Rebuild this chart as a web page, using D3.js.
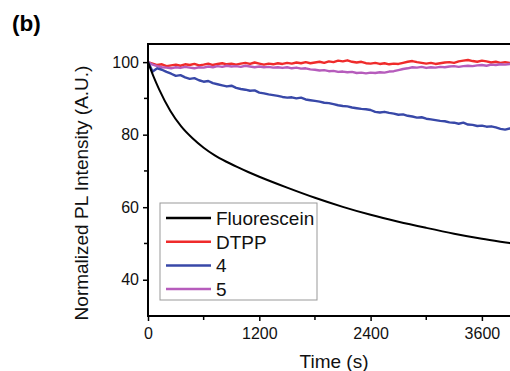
<!DOCTYPE html>
<html>
<head>
<meta charset="utf-8">
<script src="https://cdn.jsdelivr.net/npm/d3@7"></script>
<style>
  body { margin: 0; background: #fff; }
  svg { display: block; font-family: "Liberation Sans", Arial, sans-serif; }
</style>
</head>
<body>
<svg id="chart"></svg>
<script>
// series names + colours (legend order)
let seriesNames = ["Fluorescein", "DTPP", "4", "5"]
let seriesColors = ["#000000", "#ef2b2b", "#3848a8", "#b65cbc"]

// Fluorescein is smooth, read at fewer points
let fluoTimes = [0, 60, 120, 240, 360, 480, 600, 720, 840, 960, 1080, 1200, 1500, 1800, 2100, 2400, 2700, 3000, 3300, 3600, 3900, 4000]
let fluoValues = [100, 96.0, 92.5, 86.6, 82.2, 79.0, 76.4, 74.3, 72.6, 71.1, 69.7, 68.4, 65.4, 62.6, 60.1, 57.9, 56.0, 54.3, 52.7, 51.3, 50.1, 49.7]

// noisy traces read every 50 s
let times = [0, 50, 100, 150, 200, 250, 300, 350, 400, 450, 500, 550, 600, 650, 700, 750, 800, 850, 900, 950,
  1000, 1050, 1100, 1150, 1200, 1250, 1300, 1350, 1400, 1450, 1500, 1550, 1600, 1650, 1700, 1750, 1800, 1850, 1900, 1950,
  2000, 2050, 2100, 2150, 2200, 2250, 2300, 2350, 2400, 2450, 2500, 2550, 2600, 2650, 2700, 2750, 2800, 2850, 2900, 2950,
  3000, 3050, 3100, 3150, 3200, 3250, 3300, 3350, 3400, 3450, 3500, 3550, 3600, 3650, 3700, 3750, 3800, 3850, 3900, 3950, 4000]

let dtppValues = [100.0, 99.6, 99.2, 99.4, 98.9, 99.1, 99.3, 99.0, 99.4, 99.2, 99.5, 99.1, 99.3, 99.6, 99.2, 99.5, 99.7, 99.4, 99.6, 99.3,
  99.6, 99.8, 99.5, 99.9, 99.6, 99.3, 99.6, 99.4, 99.7, 99.5, 99.8, 99.6, 99.9, 99.7, 100.0, 99.7, 99.9, 100.1, 99.8, 100.2,
  100.0, 100.4, 100.2, 100.5, 100.1, 99.9, 100.1, 99.7, 99.6, 99.8, 99.5, 99.7, 99.4, 99.6, 99.5, 99.8, 100.1, 100.3, 100.0, 99.8,
  99.6, 99.8, 99.5, 99.7, 99.9, 100.0, 99.8, 100.2, 100.4, 100.6, 100.3, 100.1, 100.4, 100.2, 99.9, 100.1, 99.8, 100.0, 99.8, 99.9, 100.0]

let c4Values = [100.0, 97.4, 98.3, 97.9, 97.3, 96.8, 96.2, 96.4, 95.8, 95.4, 95.6, 95.0, 94.6, 94.8, 94.2, 93.9, 93.6, 93.3, 93.5, 92.9,
  92.6, 92.4, 92.1, 92.2, 91.6, 91.4, 91.1, 90.9, 90.7, 90.4, 90.2, 90.3, 90.0, 90.2, 89.7, 89.5, 89.3, 89.1, 88.8, 88.7,
  88.4, 88.1, 87.9, 87.8, 87.5, 87.3, 87.1, 87.0, 86.8, 86.3, 86.1, 86.3, 86.0, 85.8, 85.5, 85.6, 85.2, 85.0, 84.7, 84.8,
  84.4, 84.2, 84.0, 83.8, 83.7, 83.4, 83.3, 83.0, 83.3, 82.8, 82.7, 82.4, 82.5, 82.2, 82.3, 82.0, 81.6, 81.4, 81.7, 81.6, 81.5]

let c5Values = [100.0, 99.3, 98.9, 98.6, 98.5, 98.3, 98.6, 98.4, 98.7, 98.5, 98.3, 98.6, 98.5, 98.8, 98.6, 98.9, 98.7, 99.0, 98.8, 98.9,
  98.7, 99.0, 98.8, 98.6, 98.8, 98.6, 98.7, 98.5, 98.6, 98.4, 98.6, 98.3, 98.5, 98.2, 98.3, 98.0, 97.9, 97.7, 97.8, 97.5,
  97.6, 97.3, 97.4, 97.2, 97.3, 97.0, 97.1, 96.9, 97.1, 97.0, 97.2, 97.1, 97.4, 97.5, 97.8, 98.1, 98.3, 98.6, 98.5, 98.7,
  98.4, 98.6, 98.5, 98.7, 98.6, 98.8, 98.9, 98.7, 98.9, 99.0, 98.9, 99.1, 99.2, 99.0, 99.3, 99.2, 99.4, 99.3, 99.5, 99.4, 99.5]

let xTicks = [0, 1200, 2400, 3600]
let xMinor = [600, 1800, 3000]
let yTicks = [40, 60, 80, 100]
let yMinor = [50, 70, 90]

let width = 510, height = 371

let svg = d3.select('#chart')
    .attr('width', width)
    .attr('height', height)

// plot box runs past the right edge (cropped like the original)
let x = d3.scaleLinear().domain([0, 4000]).range([148, 519])
let y = d3.scaleLinear().domain([30, 105]).range([316, 44])

let clip = svg.append('clipPath').attr('id', 'plot')
clip.append('rect')
    .attr('x', x(0)).attr('y', y(105))
    .attr('width', x(4000) - x(0)).attr('height', y(30) - y(105))

let line = d3.line()
    .x(d => x(d[0]))
    .y(d => y(d[1]))

let traces = [
    {name: seriesNames[1], color: seriesColors[1], pts: d3.zip(times, dtppValues)},
    {name: seriesNames[3], color: seriesColors[3], pts: d3.zip(times, c5Values)},
    {name: seriesNames[2], color: seriesColors[2], pts: d3.zip(times, c4Values)},
]

let g = svg.append('g').attr('clip-path', 'url(#plot)')

g.selectAll('path.trace')
    .data(traces)
    .enter()
    .append('path')
    .attr('class', 'trace')
    .attr('d', d => line(d.pts))
    .attr('fill', 'none')
    .attr('stroke', d => d.color)
    .attr('stroke-width', 2.4)
    .attr('stroke-linejoin', 'round')

// smooth decay curve
let smooth = d3.line()
    .x(d => x(d[0]))
    .y(d => y(d[1]))
    .curve(d3.curveMonotoneX)

g.append('path')
    .attr('d', smooth(d3.zip(fluoTimes, fluoValues)))
    .attr('fill', 'none')
    .attr('stroke', seriesColors[0])
    .attr('stroke-width', 2)

// AXES
let xAxis = svg.append('g')
    .attr('transform', `translate(0, ${y(30)})`)
    .call(d3.axisBottom(x).tickValues(xTicks).tickFormat(d3.format('d'))
        .tickSize(5).tickSizeOuter(0).tickPadding(7))
let yAxis = svg.append('g')
    .attr('transform', `translate(${x(0)}, 0)`)
    .call(d3.axisLeft(y).tickValues(yTicks).tickFormat(d3.format('d'))
        .tickSize(5).tickSizeOuter(0).tickPadding(4))

xAxis.selectAll('.minor').data(xMinor).enter()
    .append('line')
    .attr('class', 'minor')
    .attr('x1', d => x(d)).attr('x2', d => x(d))
    .attr('y1', 0).attr('y2', 4)
    .attr('stroke', '#000').attr('stroke-width', 1.5)
yAxis.selectAll('.minor').data(yMinor).enter()
    .append('line')
    .attr('class', 'minor')
    .attr('y1', d => y(d)).attr('y2', d => y(d))
    .attr('x1', 0).attr('x2', -4)
    .attr('stroke', '#000').attr('stroke-width', 1.5)

for (let ax of [xAxis, yAxis]) {
    ax.select('.domain').remove()
    ax.selectAll('.tick line').attr('stroke-width', 1.5)
    ax.selectAll('text')
        .attr('font-size', 16)
        .attr('font-family', '"Liberation Sans", Arial, sans-serif')
        .attr('fill', '#111')
}

// frame
svg.append('rect')
    .attr('x', x(0)).attr('y', y(105))
    .attr('width', x(4000) - x(0)).attr('height', y(30) - y(105))
    .attr('fill', 'none')
    .attr('stroke', '#000')
    .attr('stroke-width', 2)

// LABELS
svg.append('text')
    .attr('x', 334).attr('y', 368)
    .attr('text-anchor', 'middle')
    .attr('font-size', 19)
    .attr('fill', '#111')
    .text('Time (s)')

svg.append('text')
    .attr('transform', 'translate(88, 193) rotate(-90)')
    .attr('text-anchor', 'middle')
    .attr('font-size', 19)
    .attr('fill', '#111')
    .text('Normalized PL Intensity (A.U.)')

svg.append('text')
    .attr('x', 12).attr('y', 31)
    .attr('font-size', 22.5)
    .attr('font-weight', 'bold')
    .attr('fill', '#000')
    .text('(b)')

// LEGEND
let legend = svg.append('g').attr('transform', 'translate(160, 203)')
legend.append('rect')
    .attr('width', 157).attr('height', 97)
    .attr('fill', '#fff')
    .attr('stroke', '#999')
    .attr('stroke-width', 1)

let items = legend.selectAll('g.item')
    .data(seriesNames)
    .enter()
    .append('g')
    .attr('transform', (d, i) => `translate(0, ${15 + i * 23.7})`)

items.append('line')
    .attr('x1', 6).attr('x2', 51)
    .attr('stroke', (d, i) => seriesColors[i])
    .attr('stroke-width', 2.5)

items.append('text')
    .attr('x', 56).attr('y', 7)
    .attr('font-size', 19)
    .attr('fill', '#111')
    .text(d => d)
</script>
</body>
</html>
